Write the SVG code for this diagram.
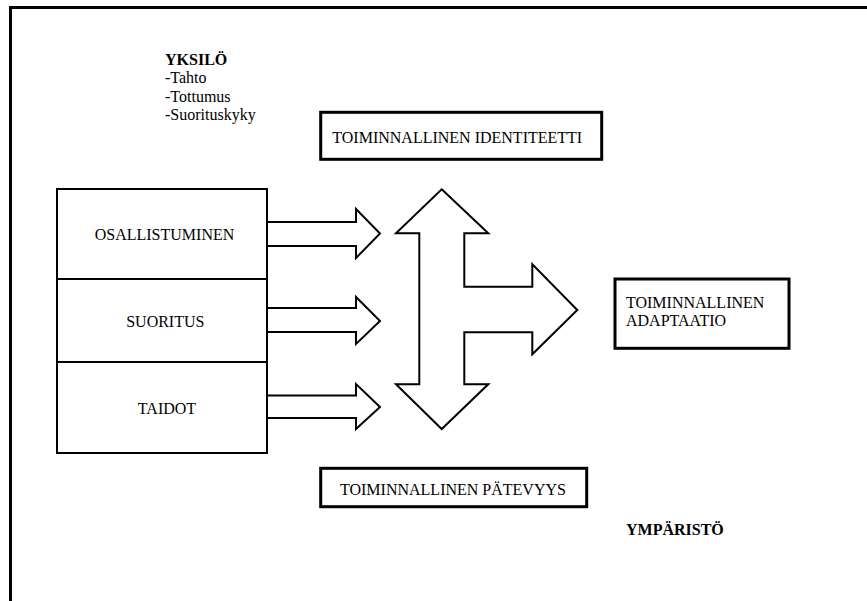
<svg xmlns="http://www.w3.org/2000/svg" width="867" height="601" viewBox="0 0 867 601">
<style>
text{font-family:'Liberation Serif','Times New Roman',serif;font-size:16px;fill:#000}
.b{font-weight:bold}
.m{text-anchor:middle}
.thin{fill:#fff;stroke:#000;stroke-width:2}
.thick{fill:#fff;stroke:#000;stroke-width:3}
.arr{fill:#fff;stroke:#000;stroke-width:2;stroke-linejoin:miter}
</style>
<rect width="867" height="601" fill="#fff"/>
<g font-family="Liberation Serif, Times New Roman, serif" font-size="16">
<g id="frame">
<polyline points="10.5,601 10.5,7.5 867,7.5" fill="none" stroke="#000" stroke-width="3"/>
</g>
<g id="yksilo">
<text class="b" x="165" y="65">YKSILÖ</text>
<text x="165" y="83">-Tahto</text>
<text x="165" y="101.5">-Tottumus</text>
<text x="165" y="120">-Suorituskyky</text>
</g>
<g id="connectors">
<polyline class="arr" points="267,222 356,222 356,209 380,233.5 356,258 356,246 267,246"/>
<polyline class="arr" points="267,308 356,308 356,297 380,321 356,344 356,332 267,332"/>
<polyline class="arr" points="267,395.5 356,395.5 356,384 380,407 356,429 356,418 267,418"/>
<polygon class="arr" points="441.7,189.3 488.3,233.3 464.3,233.3 464.3,286.7 532.3,286.7 532.3,264.3 577.3,310 532.3,354.3 532.3,332.3 464.3,332.3 464.3,384.3 488.3,384.3 441.7,429 396,384.3 419.3,384.3 419.3,233.3 396,233.3"/>
</g>
<g id="osallistuminen">
<rect class="thin" x="57" y="189" width="210" height="90"/>
<text class="m" x="164.5" y="239.5">OSALLISTUMINEN</text>
</g>
<g id="suoritus">
<rect class="thin" x="57" y="279" width="210" height="83"/>
<text class="m" x="165.3" y="326.7">SUORITUS</text>
</g>
<g id="taidot">
<rect class="thin" x="57" y="362" width="210" height="91"/>
<text class="m" x="167" y="414">TAIDOT</text>
</g>
<g id="identiteetti">
<rect class="thick" x="320.7" y="112.3" width="281" height="47"/>
<text x="332.3" y="143.3">TOIMINNALLINEN IDENTITEETTI</text>
</g>
<g id="adaptaatio">
<rect class="thick" x="615" y="279" width="174" height="69.3"/>
<text x="626" y="308.3">TOIMINNALLINEN</text>
<text x="626" y="326">ADAPTAATIO</text>
</g>
<g id="patevyys">
<rect class="thick" x="320.7" y="468.3" width="266" height="38.4"/>
<text x="340" y="495">TOIMINNALLINEN PÄTEVYYS</text>
</g>
<g id="ymparisto">
<text class="b" x="626" y="535">YMPÄRISTÖ</text>
</g>
</g>
</svg>
